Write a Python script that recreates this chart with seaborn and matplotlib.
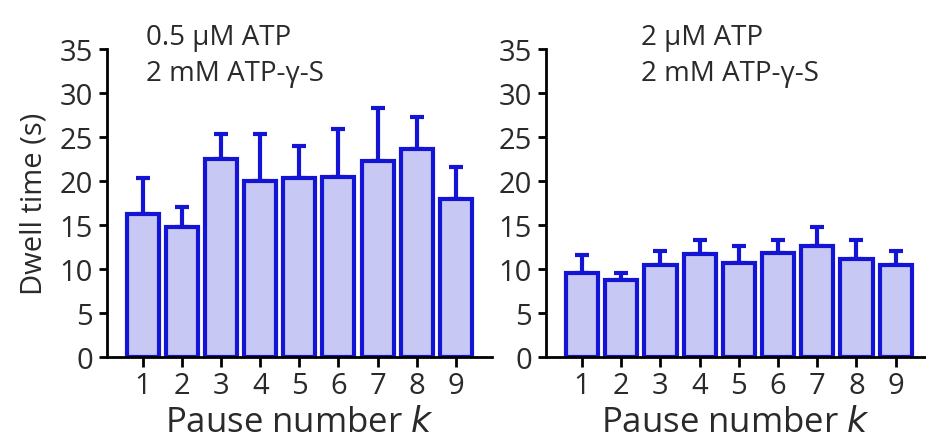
import matplotlib
matplotlib.use("Agg")
import matplotlib.pyplot as plt
import seaborn as sns
import pandas as pd
import numpy as np

pause = [1, 2, 3, 4, 5, 6, 7, 8, 9]
dwell_low = [16.3, 14.8, 22.5, 20.0, 20.4, 20.5, 22.3, 23.6, 18.0]
err_low = [4.1, 2.3, 2.8, 5.3, 3.6, 5.4, 6.0, 3.7, 3.6]
dwell_high = [9.5, 8.8, 10.5, 11.7, 10.7, 11.8, 12.6, 11.1, 10.5]
err_high = [2.1, 0.7, 1.5, 1.6, 1.9, 1.5, 2.2, 2.2, 1.5]
labels = ["0.5 \u00b5M ATP\n2 mM ATP-\u03b3-S", "2 \u00b5M ATP\n2 mM ATP-\u03b3-S"]
yticks = [0, 5, 10, 15, 20, 25, 30, 35]

sns.set_style("ticks")
plt.rcParams['font.family'] = ['Open Sans', 'DejaVu Sans']

EDGE = "#1414d4"
FILL = "#c8c8f4"
TXT = "#2a2a2a"

fig = plt.figure(figsize=(9.26, 4.39), dpi=100)
ax1 = fig.add_axes([0.1156, 0.1845, 0.4154, 0.7015])
ax2 = fig.add_axes([0.5896, 0.1845, 0.4094, 0.7015])

for ax, vals, errs, lab, xmax, show_ylabel in [
    (ax1, dwell_low, err_low, labels[0], 9.92, True),
    (ax2, dwell_high, err_high, labels[1], 9.75, False),
]:
    df = pd.DataFrame({"k": pause, "t": vals})
    ax.errorbar(pause, vals, yerr=[np.zeros(len(errs)), errs], fmt="none",
                ecolor=EDGE, elinewidth=3, capsize=5, capthick=3, zorder=1)
    sns.barplot(data=df, x="k", y="t", native_scale=True, ax=ax, color=FILL,
                saturation=1, width=0.82, edgecolor=EDGE, linewidth=3, zorder=2)
    ax.set_xlim(0.08, xmax)
    ax.set_ylim(0, 35)
    ax.set_yticks(yticks)
    ax.set_xticks(pause)
    ax.tick_params(axis="both", labelsize=21, width=2, color="black",
                   labelcolor=TXT)
    ax.tick_params(axis="y", length=6, pad=4)
    ax.tick_params(axis="x", length=7, pad=3)
    for s in ["left", "bottom"]:
        ax.spines[s].set_linewidth(2)
        ax.spines[s].set_color("black")
    sns.despine(ax=ax)
    ax.set_xlabel("Pause number $k$", fontsize=25, labelpad=4, color=TXT)
    if show_ylabel:
        ax.set_ylabel("Dwell time (s)", fontsize=21, labelpad=8, color=TXT)
    else:
        ax.set_ylabel("")
    ax.text(0.1 if show_ylabel else 0.25, 1.085, lab, transform=ax.transAxes,
            fontsize=20, va="top", ha="left", linespacing=1.4, color=TXT)

fig.savefig("out.png", dpi=100)
